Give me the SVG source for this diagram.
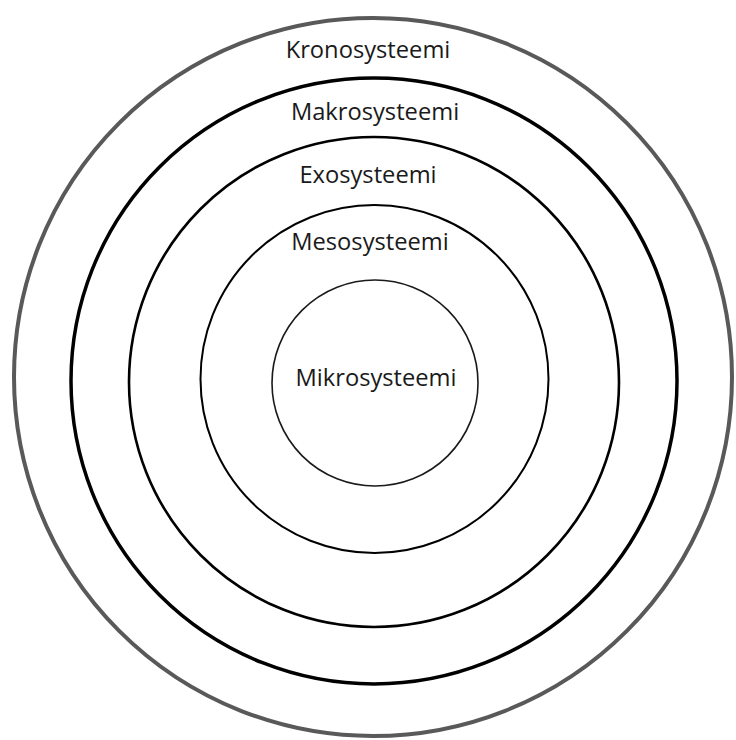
<svg xmlns="http://www.w3.org/2000/svg" width="736" height="740" viewBox="0 0 736 740">
<style>
.ring{fill:none}
.lbl{font-family:"Open Sans","Noto Sans",sans-serif;font-size:23.7px;fill:#1a1a1a;text-anchor:middle}
</style>
<rect width="736" height="740" fill="#ffffff"/>
<g id="kronosysteemi">
<circle class="ring" cx="373" cy="377" r="359" stroke="#595959" stroke-width="4"/>
<text class="lbl" x="368" y="58">Kronosysteemi</text>
</g>
<g id="makrosysteemi">
<circle class="ring" cx="374" cy="381" r="303" stroke="#000" stroke-width="3.5"/>
<text class="lbl" x="375" y="120">Makrosysteemi</text>
</g>
<g id="exosysteemi">
<circle class="ring" cx="374" cy="382" r="245" stroke="#000" stroke-width="2.6"/>
<text class="lbl" x="368" y="183">Exosysteemi</text>
</g>
<g id="mesosysteemi">
<circle class="ring" cx="374.5" cy="379" r="174" stroke="#000" stroke-width="2"/>
<text class="lbl" x="370" y="250">Mesosysteemi</text>
</g>
<g id="mikrosysteemi">
<circle class="ring" cx="375" cy="383" r="103" stroke="#1a1a1a" stroke-width="1.6"/>
<text class="lbl" x="376" y="386">Mikrosysteemi</text>
</g>
<g id="connectors"></g>
</svg>
